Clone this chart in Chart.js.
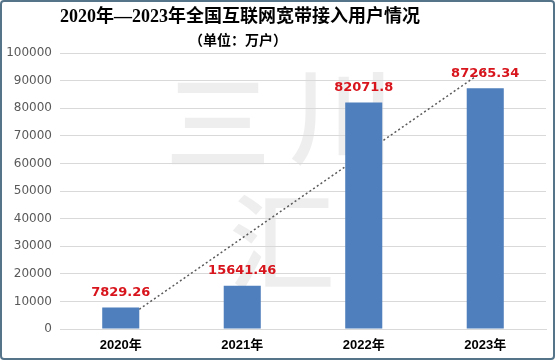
<!DOCTYPE html>
<html>
<head>
<meta charset="utf-8">
<script src="https://cdn.jsdelivr.net/npm/chart.js@4.4.1/dist/chart.umd.min.js"></script>
<style>
  html, body { margin: 0; padding: 0; background: #fff; }
  #wrap { position: relative; width: 556px; height: 362px; }
</style>
</head>
<body>
<div id="wrap"><canvas id="canvas-1"></canvas></div>
<script>
// 数据
const categories = ['2020年', '2021年', '2022年', '2023年'];
const users = [7829.26, 15641.46, 82071.8, 87265.34];
const valueLabels = ['7829.26', '15641.46', '82071.8', '87265.34'];
// 趋势线两端，中间留空
const trend = [2500, null, null, 93900];
const yTicks = [0, 10000, 20000, 30000, 40000, 50000, 60000, 70000, 80000, 90000, 100000];

const titleText = '2020年—2023年全国互联网宽带接入用户情况';
const subTitleText = '（单位：万户）';

const cjk = '"Noto Sans CJK SC"';

// 背景水印 + 边框 + 标题
const decor = {
    id: 'decor',
    beforeDraw(c) {
        const ctx = c.ctx;
        ctx.save();
        ctx.fillStyle = '#fff';
        ctx.fillRect(0, 0, c.width, c.height);
        ctx.fillStyle = 'rgba(0,0,0,0.065)';
        ctx.textAlign = 'center';
        ctx.textBaseline = 'middle';
        ctx.font = '500 106px ' + cjk;
        ctx.fillText('三', 218, 122);
        ctx.fillText('川', 342, 116);
        ctx.fillText('汇', 282, 242);
        ctx.restore();
    },
    afterDraw(c) {
        const ctx = c.ctx;
        ctx.save();
        ctx.fillStyle = '#000';
        ctx.textAlign = 'center';
        ctx.textBaseline = 'middle';
        ctx.font = 'bold 18px "Liberation Serif", ' + cjk;
        ctx.fillText(titleText, 240, 17);
        ctx.font = 'bold 14px ' + cjk;
        ctx.fillText(subTitleText, 238, 40);
        ctx.strokeStyle = '#557489';
        ctx.lineWidth = 2;
        ctx.beginPath();
        ctx.roundRect(1, 1, 553, 358, 3);
        ctx.stroke();
        ctx.restore();
    }
};

// 柱顶数值
const valueLabelPlugin = {
    id: 'valueLabels',
    afterDatasetsDraw(c) {
        const meta = c.getDatasetMeta(0);
        const ctx = c.ctx;
        ctx.save();
        ctx.fillStyle = '#d8141c';
        ctx.font = 'bold 13px "DejaVu Sans"';
        ctx.textAlign = 'center';
        ctx.textBaseline = 'middle';
        meta.data.forEach((bar, i) => {
            ctx.fillText(valueLabels[i], bar.x, bar.y - 15);
        });
        ctx.restore();
    }
};

const ctx = document.getElementById('canvas-1').getContext('2d');

let chart = new Chart(ctx, {
    type: 'bar',
    data: {
        labels: categories,
        datasets: [{
            label: '宽带接入用户',
            data: users,
            backgroundColor: '#4f7fbc',
            borderWidth: 0,
            barPercentage: 0.305,
            categoryPercentage: 1,
            order: 0
        }, {
            type: 'line',
            label: '趋势线',
            data: trend,
            spanGaps: true,
            borderColor: '#5a5a5a',
            borderWidth: 1.5,
            borderDash: [2, 2.5],
            pointRadius: 0,
            fill: false,
            order: 1
        }]
    },
    options: {
        responsive: true,
        maintainAspectRatio: false,
        animation: false,
        layout: { padding: { left: 0, right: 10, top: 53, bottom: 0 } },
        plugins: {
            legend: { display: false },
            tooltip: { enabled: false }
        },
        scales: {
            x: {
                grid: { display: false, drawTicks: false },
                border: { display: true, color: '#d9d9d9' },
                ticks: {
                    padding: 9,
                    color: '#000',
                    font: { family: '"Liberation Sans", ' + cjk, size: 13, weight: 'bold' }
                },
                afterFit(scale) { scale.height = 33; }
            },
            y: {
                min: 0,
                max: 100000,
                afterBuildTicks(scale) { scale.ticks = yTicks.map(v => ({ value: v })); },
                grid: { color: '#d9d9d9', drawTicks: false },
                border: { display: false },
                ticks: {
                    padding: 8,
                    color: '#595959',
                    font: { family: '"DejaVu Sans"', size: 12 },
                    callback: (v) => String(v)
                },
                afterFit(scale) { scale.width = 60; }
            }
        }
    },
    plugins: [decor, valueLabelPlugin]
});
</script>
</body>
</html>
